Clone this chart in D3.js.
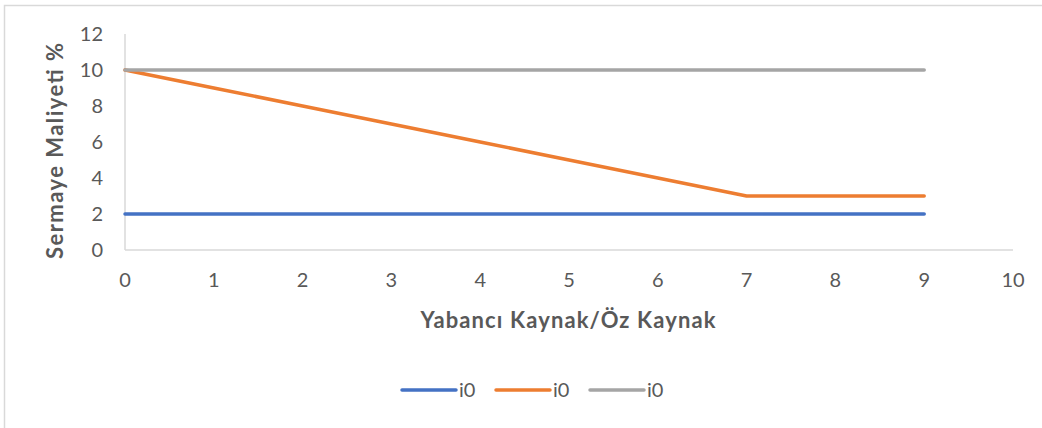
<!DOCTYPE html>
<html>
<head>
<meta charset="utf-8">
<script src="https://cdn.jsdelivr.net/npm/d3@7"></script>
<style>
  html, body { margin: 0; padding: 0; background: #fff; }
  svg { display: block; font-family: Lato, "Open Sans", sans-serif; }
</style>
</head>
<body>
<svg id="chart" width="1042" height="428"></svg>
<script>
// Debt/equity ratio values on the x axis
const xValues = [0, 1, 2, 3, 4, 5, 6, 7, 8, 9];
// Cost of capital series (%)
const seriesBlue   = [2, 2, 2, 2, 2, 2, 2, 2, 2, 2];
const seriesOrange = [10, 9, 8, 7, 6, 5, 4, 3, 3, 3];
const seriesGray   = [10, 10, 10, 10, 10, 10, 10, 10, 10, 10];
const seriesNames  = ["i0", "i0", "i0"];
const seriesColors = ["#4472C4", "#ED7D31", "#A5A5A5"];
const xTicks = [0, 1, 2, 3, 4, 5, 6, 7, 8, 9, 10];
const yTicks = [0, 2, 4, 6, 8, 10, 12];

const svg = d3.select("#chart");

// outer chart frame
svg.append("rect")
  .attr("x", 4.5).attr("y", 5.5)
  .attr("width", 1100).attr("height", 500)
  .attr("fill", "none").attr("stroke", "#d9d9d9").attr("stroke-width", 1.5);

const x = d3.scaleLinear().domain([0, 10]).range([125, 1013]);
const y = d3.scaleLinear().domain([0, 12]).range([250, 34]);

// axis lines
svg.append("line")
  .attr("x1", x(0)).attr("x2", x(0)).attr("y1", y(12)).attr("y2", y(0))
  .attr("stroke", "#d9d9d9").attr("stroke-width", 1.5);
svg.append("line")
  .attr("x1", x(0)).attr("x2", x(10)).attr("y1", y(0)).attr("y2", y(0))
  .attr("stroke", "#d9d9d9").attr("stroke-width", 1.5);

// tick labels
svg.append("g").selectAll("text").data(yTicks).join("text")
  .attr("x", 103).attr("y", d => y(d)).attr("dy", "0.36em")
  .attr("text-anchor", "end").attr("font-size", 20).attr("fill", "#595959")
  .text(d => d);
svg.append("g").selectAll("text").data(xTicks).join("text")
  .attr("x", d => x(d)).attr("y", 280).attr("dy", "0.36em")
  .attr("text-anchor", "middle").attr("font-size", 20).attr("fill", "#595959")
  .text(d => d);

// axis titles
svg.append("text")
  .attr("transform", "translate(63,151) rotate(-90)")
  .attr("text-anchor", "middle").attr("font-size", 22).attr("font-weight", "bold")
  .attr("textLength", 216)
  .attr("fill", "#595959").text("Sermaye Maliyeti %");
svg.append("text")
  .attr("x", 568).attr("y", 328)
  .attr("text-anchor", "middle").attr("font-size", 22).attr("font-weight", "bold")
  .attr("textLength", 295)
  .attr("fill", "#595959").text("Yabancı Kaynak/Öz Kaynak");

// series lines
const series = [seriesBlue, seriesOrange, seriesGray];
const line = d3.line().x((d, i) => x(xValues[i])).y(d => y(d));
svg.append("g").selectAll("path").data(series).join("path")
  .attr("d", line)
  .attr("fill", "none")
  .attr("stroke", (d, i) => seriesColors[i])
  .attr("stroke-width", 3.5)
  .attr("stroke-linecap", "round")
  .attr("stroke-linejoin", "round");

// legend
const legendX = [402, 496, 590];
const lg = svg.append("g").selectAll("g").data(seriesNames).join("g")
  .attr("transform", (d, i) => `translate(${legendX[i]},390)`);
lg.append("line")
  .attr("x1", 0).attr("x2", 54).attr("y1", 0).attr("y2", 0)
  .attr("stroke", (d, i) => seriesColors[i]).attr("stroke-width", 3.5)
  .attr("stroke-linecap", "round");
lg.append("text")
  .attr("x", 57).attr("y", 0).attr("dy", "0.36em")
  .attr("font-size", 20).attr("fill", "#595959")
  .text(d => d);
</script>
</body>
</html>
